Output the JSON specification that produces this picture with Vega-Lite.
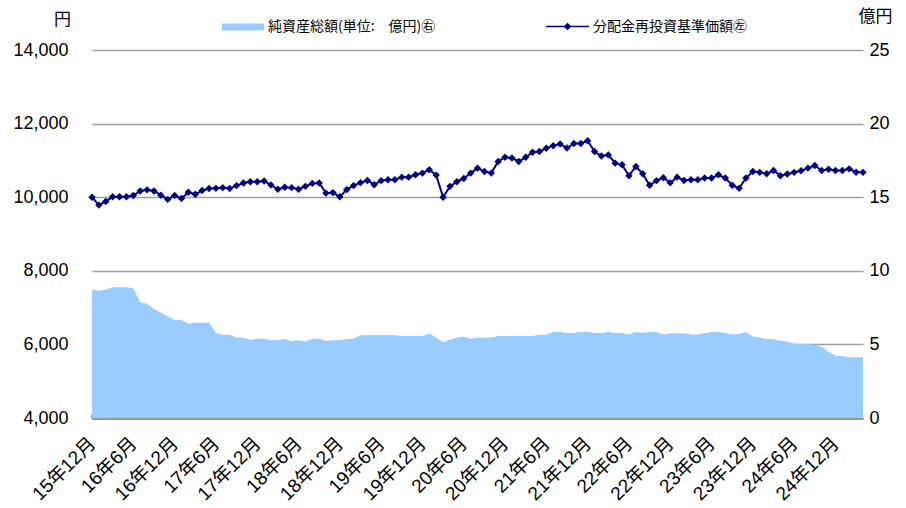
{
  "$schema": "https://vega.github.io/schema/vega-lite/v6.json",
  "autosize": {"type": "none"},
  "padding": {"left": 92, "top": 50, "right": 43, "bottom": 90},
  "width": 771,
  "height": 368,
  "background": "white",
  "config": {
    "view": {"stroke": null},
    "axis": {"labelFont": "Liberation Sans, Noto Sans CJK JP", "labelFontSize": 18, "labelColor": "#000", "titleFont": "Noto Sans CJK JP", "titleFontSize": 17, "titleFontWeight": "normal", "titleColor": "#000"},
    "legend": {"labelFont": "Noto Sans CJK JP", "labelFontSize": 14, "labelColor": "#000", "labelLimit": 400}
  },
  "data": {"values": [
    {"m": "15年12月", "v": 10000, "a": 8.71},
    {"m": "16年1月", "v": 9785, "a": 8.64},
    {"m": "16年2月", "v": 9883, "a": 8.71},
    {"m": "16年3月", "v": 10010, "a": 8.89},
    {"m": "16年4月", "v": 10010, "a": 8.89},
    {"m": "16年5月", "v": 10010, "a": 8.89},
    {"m": "16年6月", "v": 10045, "a": 8.82},
    {"m": "16年7月", "v": 10170, "a": 7.87},
    {"m": "16年8月", "v": 10200, "a": 7.76},
    {"m": "16年9月", "v": 10170, "a": 7.40},
    {"m": "16年10月", "v": 10055, "a": 7.17},
    {"m": "16年11月", "v": 9940, "a": 6.90},
    {"m": "16年12月", "v": 10045, "a": 6.67},
    {"m": "17年1月", "v": 9965, "a": 6.65},
    {"m": "17年2月", "v": 10135, "a": 6.40},
    {"m": "17年3月", "v": 10080, "a": 6.47},
    {"m": "17年4月", "v": 10180, "a": 6.47},
    {"m": "17年5月", "v": 10235, "a": 6.47},
    {"m": "17年6月", "v": 10240, "a": 5.77},
    {"m": "17年7月", "v": 10260, "a": 5.66},
    {"m": "17年8月", "v": 10235, "a": 5.66},
    {"m": "17年9月", "v": 10315, "a": 5.47},
    {"m": "17年10月", "v": 10385, "a": 5.45},
    {"m": "17年11月", "v": 10420, "a": 5.32},
    {"m": "17年12月", "v": 10420, "a": 5.38},
    {"m": "18年1月", "v": 10440, "a": 5.38},
    {"m": "18年2月", "v": 10330, "a": 5.29},
    {"m": "18年3月", "v": 10215, "a": 5.29},
    {"m": "18年4月", "v": 10270, "a": 5.38},
    {"m": "18年5月", "v": 10260, "a": 5.20},
    {"m": "18年6月", "v": 10215, "a": 5.29},
    {"m": "18年7月", "v": 10295, "a": 5.20},
    {"m": "18年8月", "v": 10375, "a": 5.38},
    {"m": "18年9月", "v": 10385, "a": 5.38},
    {"m": "18年10月", "v": 10110, "a": 5.23},
    {"m": "18年11月", "v": 10125, "a": 5.29},
    {"m": "18年12月", "v": 10010, "a": 5.29},
    {"m": "19年1月", "v": 10205, "a": 5.36},
    {"m": "19年2月", "v": 10315, "a": 5.38},
    {"m": "19年3月", "v": 10395, "a": 5.63},
    {"m": "19年4月", "v": 10455, "a": 5.63},
    {"m": "19年5月", "v": 10340, "a": 5.63},
    {"m": "19年6月", "v": 10450, "a": 5.63},
    {"m": "19年7月", "v": 10475, "a": 5.63},
    {"m": "19年8月", "v": 10475, "a": 5.63},
    {"m": "19年9月", "v": 10545, "a": 5.57},
    {"m": "19年10月", "v": 10545, "a": 5.57},
    {"m": "19年11月", "v": 10610, "a": 5.57},
    {"m": "19年12月", "v": 10655, "a": 5.57},
    {"m": "20年1月", "v": 10745, "a": 5.75},
    {"m": "20年2月", "v": 10600, "a": 5.47},
    {"m": "20年3月", "v": 10000, "a": 5.14},
    {"m": "20年4月", "v": 10295, "a": 5.32},
    {"m": "20年5月", "v": 10420, "a": 5.45},
    {"m": "20年6月", "v": 10510, "a": 5.54},
    {"m": "20年7月", "v": 10655, "a": 5.38},
    {"m": "20年8月", "v": 10790, "a": 5.45},
    {"m": "20年9月", "v": 10700, "a": 5.46},
    {"m": "20年10月", "v": 10655, "a": 5.47},
    {"m": "20年11月", "v": 10970, "a": 5.57},
    {"m": "20年12月", "v": 11085, "a": 5.57},
    {"m": "21年1月", "v": 11065, "a": 5.57},
    {"m": "21年2月", "v": 10970, "a": 5.57},
    {"m": "21年3月", "v": 11085, "a": 5.57},
    {"m": "21年4月", "v": 11220, "a": 5.57},
    {"m": "21年5月", "v": 11240, "a": 5.66},
    {"m": "21年6月", "v": 11330, "a": 5.66},
    {"m": "21年7月", "v": 11400, "a": 5.84},
    {"m": "21年8月", "v": 11445, "a": 5.84},
    {"m": "21年9月", "v": 11335, "a": 5.77},
    {"m": "21年10月", "v": 11460, "a": 5.77},
    {"m": "21年11月", "v": 11460, "a": 5.84},
    {"m": "21年12月", "v": 11535, "a": 5.84},
    {"m": "22年1月", "v": 11240, "a": 5.77},
    {"m": "22年2月", "v": 11120, "a": 5.77},
    {"m": "22年3月", "v": 11150, "a": 5.84},
    {"m": "22年4月", "v": 10925, "a": 5.77},
    {"m": "22年5月", "v": 10880, "a": 5.77},
    {"m": "22年6月", "v": 10585, "a": 5.68},
    {"m": "22年7月", "v": 10835, "a": 5.84},
    {"m": "22年8月", "v": 10635, "a": 5.77},
    {"m": "22年9月", "v": 10325, "a": 5.84},
    {"m": "22年10月", "v": 10450, "a": 5.84},
    {"m": "22年11月", "v": 10530, "a": 5.68},
    {"m": "22年12月", "v": 10390, "a": 5.75},
    {"m": "23年1月", "v": 10545, "a": 5.75},
    {"m": "23年2月", "v": 10455, "a": 5.75},
    {"m": "23年3月", "v": 10475, "a": 5.68},
    {"m": "23年4月", "v": 10475, "a": 5.68},
    {"m": "23年5月", "v": 10520, "a": 5.75},
    {"m": "23年6月", "v": 10520, "a": 5.84},
    {"m": "23年7月", "v": 10610, "a": 5.84},
    {"m": "23年8月", "v": 10520, "a": 5.77},
    {"m": "23年9月", "v": 10325, "a": 5.68},
    {"m": "23年10月", "v": 10240, "a": 5.70},
    {"m": "23年11月", "v": 10520, "a": 5.84},
    {"m": "23年12月", "v": 10700, "a": 5.54},
    {"m": "24年1月", "v": 10675, "a": 5.47},
    {"m": "24年2月", "v": 10635, "a": 5.36},
    {"m": "24年3月", "v": 10725, "a": 5.36},
    {"m": "24年4月", "v": 10585, "a": 5.23},
    {"m": "24年5月", "v": 10630, "a": 5.20},
    {"m": "24年6月", "v": 10675, "a": 5.05},
    {"m": "24年7月", "v": 10720, "a": 5.02},
    {"m": "24年8月", "v": 10790, "a": 5.02},
    {"m": "24年9月", "v": 10860, "a": 4.98},
    {"m": "24年10月", "v": 10725, "a": 4.84},
    {"m": "24年11月", "v": 10760, "a": 4.52},
    {"m": "24年12月", "v": 10725, "a": 4.23},
    {"m": "25年1月", "v": 10725, "a": 4.21},
    {"m": "25年2月", "v": 10770, "a": 4.12},
    {"m": "25年3月", "v": 10680, "a": 4.12},
    {"m": "25年4月", "v": 10675, "a": 4.12}
  ]},
  "encoding": {
    "x": {
      "field": "m", "type": "ordinal", "sort": null,
      "scale": {"type": "point", "padding": 0},
      "axis": {
        "title": null,
        "values": ["15年12月","16年6月","16年12月","17年6月","17年12月","18年6月","18年12月","19年6月","19年12月","20年6月","20年12月","21年6月","21年12月","22年6月","22年12月","23年6月","23年12月","24年6月","24年12月"],
        "labelAngle": -45, "labelAlign": "right", "labelBaseline": "middle", "labelPadding": 26,
        "labelFont": "Liberation Sans, Noto Sans CJK JP", "labelFontSize": 19,
        "domainColor": "#969696", "domainWidth": 3,
        "tickColor": "#969696", "tickWidth": 3, "tickSize": -4,
        "grid": false, "labelOverlap": false, "labelBound": false, "labelLimit": 300
      }
    }
  },
  "layer": [
    {
      "mark": {"type": "area", "color": "#99CCFF", "opacity": 1},
      "encoding": {
        "y": {
          "field": "a", "type": "quantitative",
          "scale": {"domain": [0, 25], "nice": false},
          "axis": {
            "orient": "right", "values": [0, 5, 10, 15, 20, 25], "format": "d", "grid": false,
            "domain": false, "ticks": false, "labelPadding": 6,
            "title": "億円", "titleAngle": 0, "titleX": 12, "titleY": -34,
            "titleAlign": "center", "titleBaseline": "middle"
          }
        },
        "fill": {
          "datum": "純資産総額(単位:　億円)㊨", "type": "nominal",
          "scale": {"range": ["#99CCFF"]},
          "legend": {
            "title": null, "orient": "none", "legendX": 130, "legendY": -44, "padding": 0,
            "symbolType": "M-1,-0.17H1V0.17H-1Z", "symbolSize": 1764,
            "symbolStrokeWidth": 0, "symbolOpacity": 1, "labelOffset": 4
          }
        }
      }
    },
    {
      "mark": {"type": "line", "strokeWidth": 2, "point": {"filled": true, "shape": "diamond", "size": 55, "opacity": 1}},
      "encoding": {
        "y": {
          "field": "v", "type": "quantitative",
          "scale": {"domain": [4000, 14000], "nice": false, "zero": false},
          "axis": {
            "orient": "left", "values": [4000, 6000, 8000, 10000, 12000, 14000], "format": ",.0f",
            "grid": true, "gridColor": "#A0A0A0", "gridWidth": 1.5,
            "domain": false, "ticks": false, "labelPadding": 24,
            "title": "円", "titleAngle": 0, "titleX": -30, "titleY": -31,
            "titleAlign": "center", "titleBaseline": "middle"
          }
        },
        "color": {
          "datum": "分配金再投資基準価額㊧", "type": "nominal",
          "scale": {"range": ["#000080"]},
          "legend": {
            "title": null, "orient": "none", "legendX": 453, "legendY": -46, "padding": 0,
            "symbolType": "M-1,0H1M0,-0.13L0.13,0L0,0.13L-0.13,0Z", "symbolSize": 1849,
            "symbolStrokeWidth": 1.5, "symbolStrokeColor": "#000080", "symbolFillColor": "#000080",
            "labelOffset": 3
          }
        }
      }
    }
  ],
  "resolve": {"scale": {"y": "independent"}}
}
